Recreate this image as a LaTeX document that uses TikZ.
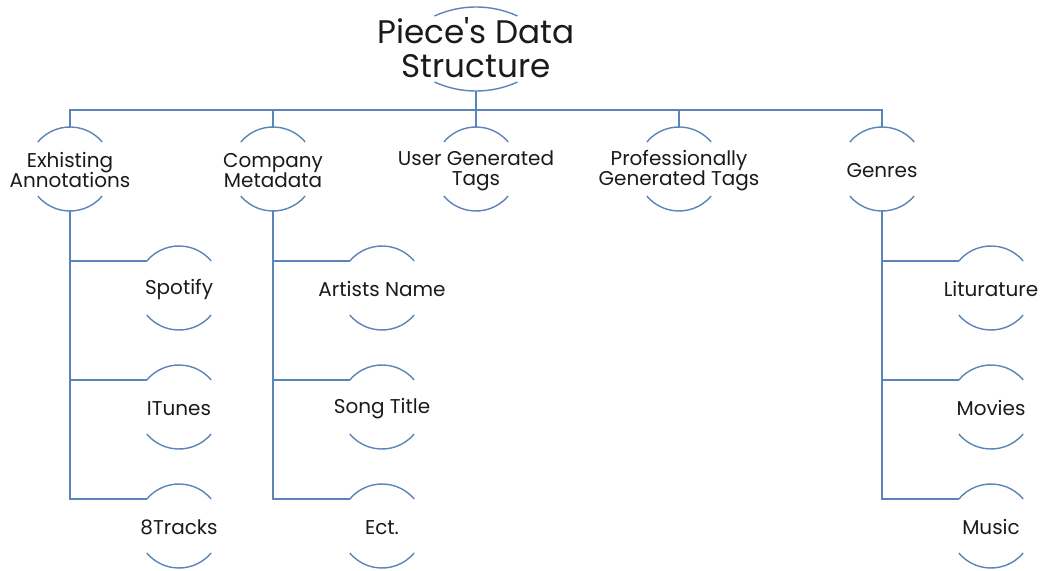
\documentclass[tikz,border=0pt]{standalone}
\usepackage{fontspec}
\setmainfont{Poppins}
\usetikzlibrary{calc}
\definecolor{ringblue}{HTML}{5B84B8}
\definecolor{inkgray}{HTML}{1A1A1A}
\newcommand{\tightlines}{\lineskiplimit=-20pt\relax}

\begin{document}
\begin{tikzpicture}[x=0.025cm, y=0.025cm,
    ring/.style={circle, minimum size=2.1cm, inner sep=0pt, outer sep=0pt},
    txt/.style={align=center, text=inkgray, inner sep=0pt, yshift=-1,
      font=\fontsize{14.2}{14.2}\selectfont\tightlines},
    link/.style={draw=ringblue, line width=1pt}]
  \useasboundingbox (0,0) rectangle (1044,-571);
  % title
  \node[ring] (title) at (476,-49) {};
  \node[txt, yshift=2, font=\fontsize{23.2}{24.2}\selectfont\tightlines] (title-t) at (title) {Piece\textquotesingle s Data\\Structure};
  \draw[link] ($(title.north)+(-41.5,-9)$) arc[start angle=114.5, end angle=65.5, radius=2.5cm];
  \draw[link] ($(title.south)+(-41.5,9)$) arc[start angle=245.5, end angle=294.5, radius=2.5cm];
  % rings with their text
  \foreach \n/\x/\y/\t in {ex/70/169/{Exhisting\\Annotations},
      co/273/169/{Company\\Metadata}, ug/476/169/{User Generated\\Tags},
      pg/679/169/{Professionally\\Generated Tags}, ge/882/169/Genres,
      sp/179/288/Spotify, it/179/407/ITunes, et/179/526/8Tracks,
      an/382/288/Artists Name, st/382/407/Song Title, ec/382/526/Ect.,
      li/991/288/Liturature, mo/991/407/Movies, mu/991/526/Music} {
    \node[ring] (\n) at (\x,-\y) {};
    \node[txt] (\n-t) at (\n) {\t};
    \draw[link] (\n.140) arc[start angle=140, end angle=40, radius=1.05cm];
    \draw[link] (\n.-40) arc[start angle=-40, end angle=-140, radius=1.05cm];
  }
  % horizontal line
  \coordinate (bus) at (476,-110);
  \draw[link] (title.south) -- (bus);
  \foreach \n in {ex,co,ug,pg,ge}
    \draw[link] (bus) -| (\n.north);
  % branches to the leaves
  \foreach \p/\c in {ex/sp,ex/it,ex/et,co/an,co/st,co/ec,ge/li,ge/mo,ge/mu}
    \draw[link] (\p.south) |- (\c.140);
\end{tikzpicture}
\end{document}
